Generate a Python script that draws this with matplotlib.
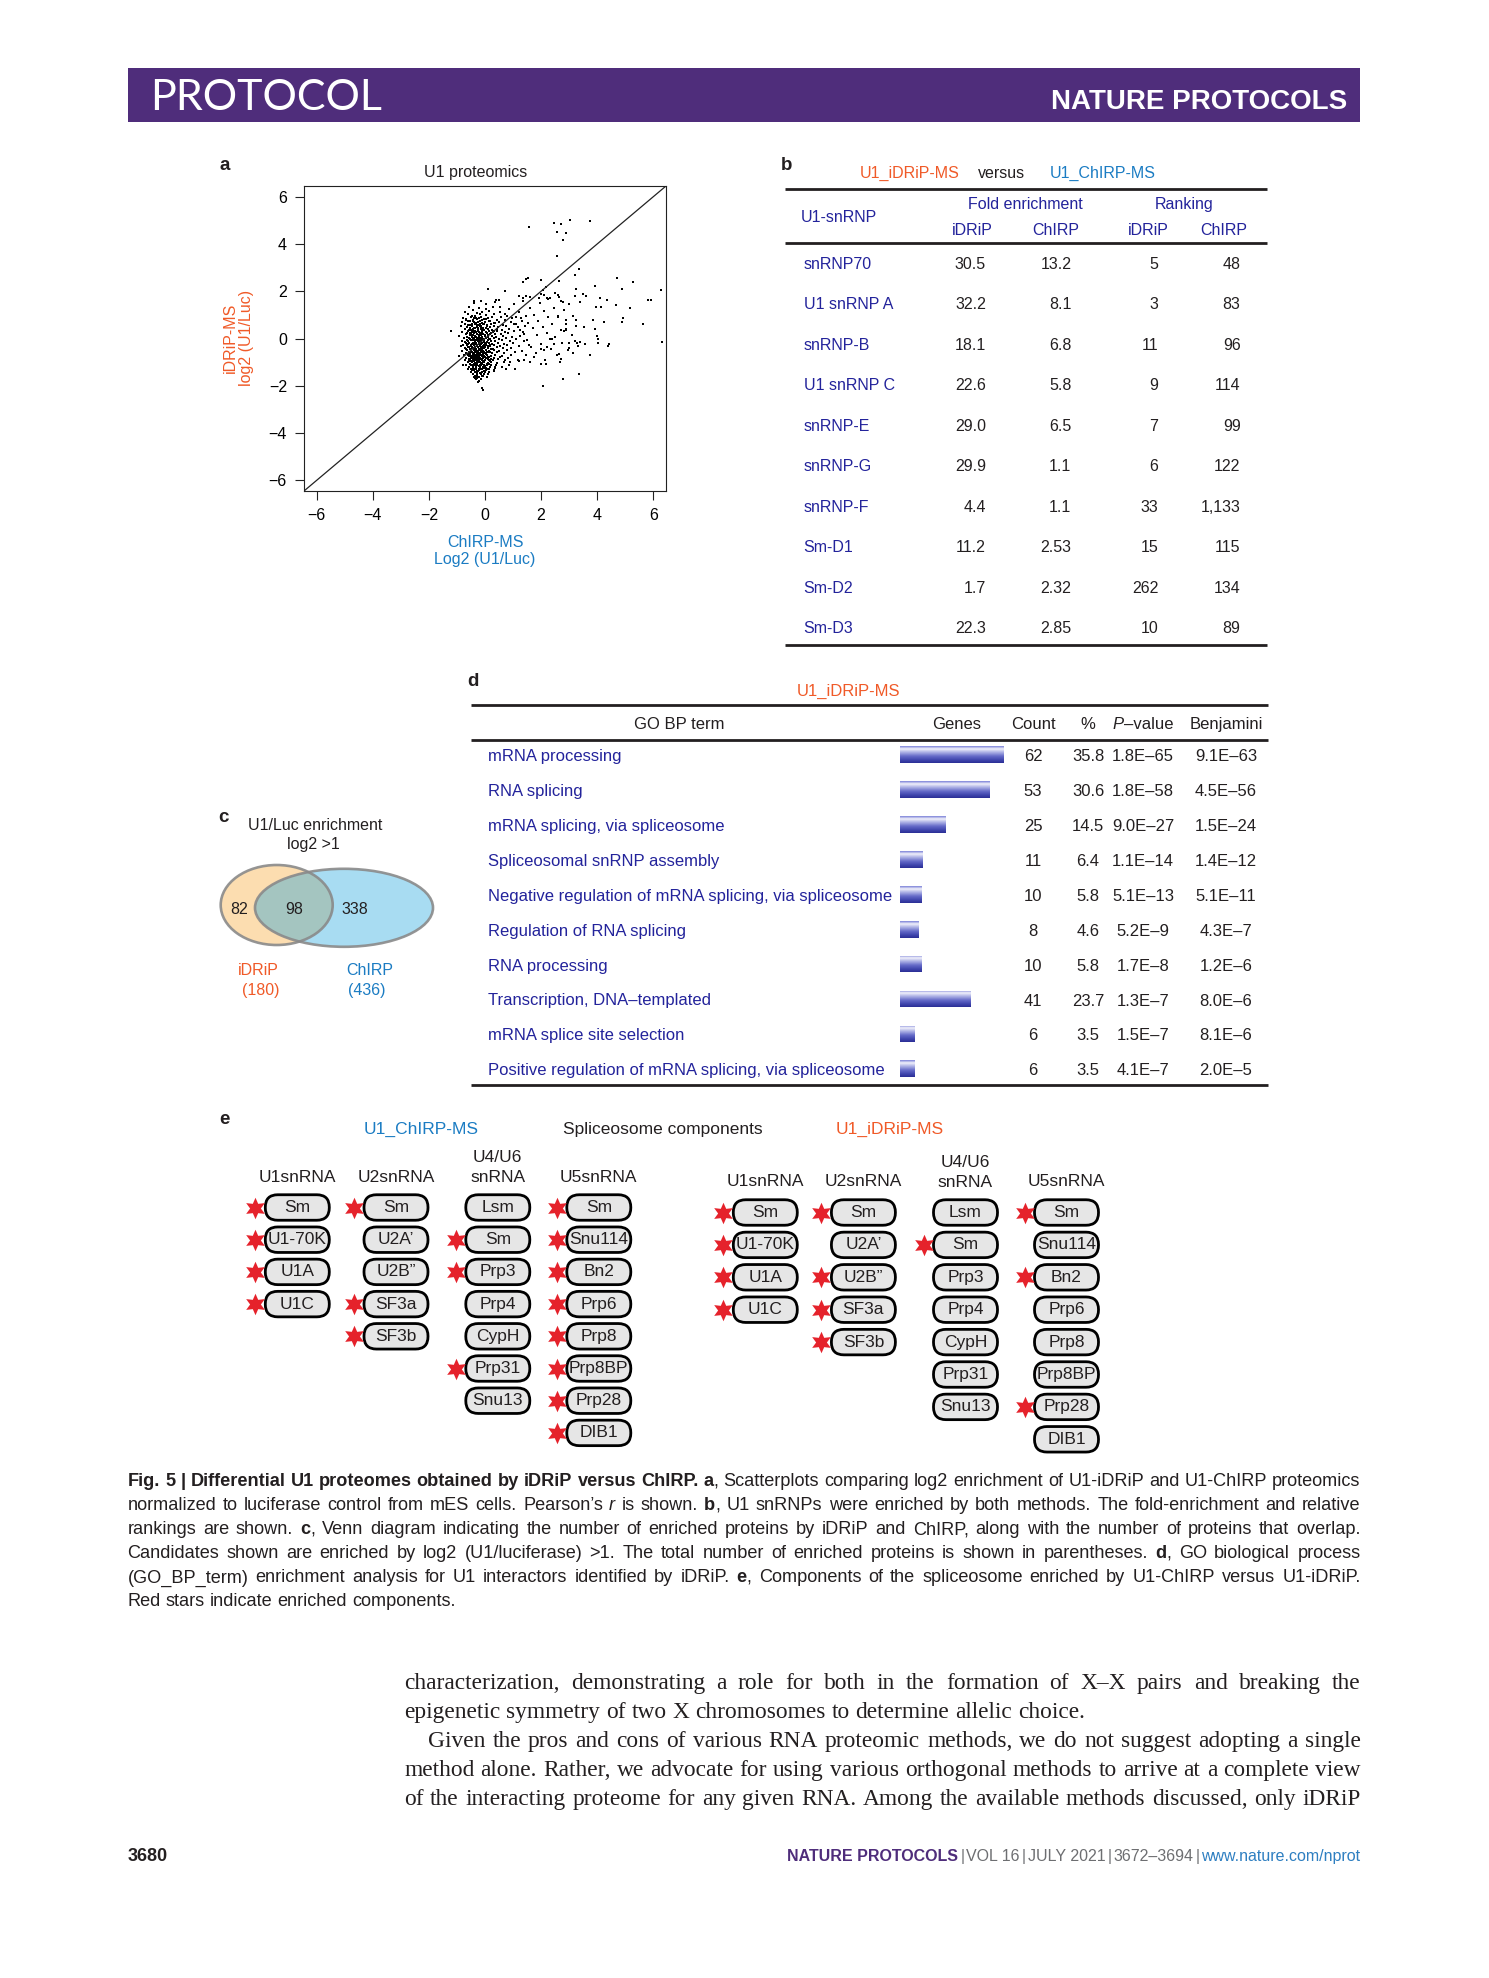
import numpy as np
import matplotlib
matplotlib.use('Agg')
import matplotlib.pyplot as plt
from matplotlib import font_manager as fm
from matplotlib.patches import Ellipse, FancyBboxPatch, Rectangle
from matplotlib.colors import LinearSegmentedColormap

# ------------------------------------------------------------------ fonts
_names = {f.name for f in fm.fontManager.ttflist}
SANS = 'Liberation Sans' if 'Liberation Sans' in _names else 'DejaVu Sans'
NARROW = 'Liberation Sans Narrow' if 'Liberation Sans Narrow' in _names else SANS
SERIF = 'Liberation Serif' if 'Liberation Serif' in _names else 'DejaVu Serif'
LIGHT = 'Lato' if 'Lato' in _names else SANS
plt.rcParams['font.family'] = SANS

# ------------------------------------------------------------------ data
# panel a : log2(U1/Luc) for ChIRP-MS (x) and iDRiP-MS (y)
u1_log2_points = [
 (-0.38,1.52),(0.02,1.47),(-0.15,1.58),(-0.57,1.33),(-0.22,1.27),(0.28,1.35),(0.05,1.24),
 (-0.72,1.12),(-0.41,1.19),(-0.12,1.13),(0.13,1.17),(0.52,1.1),(-0.28,1.08),
 (-0.62,1.03),(-0.36,0.97),(-0.17,1.02),(0.04,0.98),(0.33,1.04),(0.78,0.96),(-0.48,0.94),
 (-0.77,0.88),(-0.51,0.92),(-0.31,0.86),(-0.13,0.91),(0.09,0.87),(0.24,0.93),(0.58,0.89),(1.12,0.92),(-0.02,0.84),
 (-0.66,0.82),(-0.44,0.77),(-0.27,0.81),(-0.09,0.78),(0.03,0.83),(0.19,0.76),(0.41,0.8),(0.71,0.78),(-0.55,0.74),(-0.19,0.73),
 (-0.81,0.69),(-0.59,0.72),(-0.39,0.68),(-0.24,0.71),(-0.11,0.66),(0.01,0.7),(0.13,0.73),(0.31,0.67),(0.49,0.71),(0.92,0.69),(1.31,0.72),(-0.33,0.64),
 (-0.71,0.61),(-0.53,0.57),(-0.36,0.62),(-0.21,0.58),(-0.04,0.63),(0.07,0.56),(0.23,0.6),(0.37,0.64),(0.63,0.58),(1.02,0.61),(-0.45,0.55),(-0.13,0.54),
 (-0.86,0.51),(-0.63,0.48),(-0.46,0.53),(-0.29,0.47),(-0.17,0.52),(-0.07,0.46),(0.06,0.51),(0.17,0.47),(0.31,0.52),(0.47,0.49),(0.76,0.53),(1.16,0.47),(1.44,0.51),(-0.38,0.44),(-0.24,0.43),
 (-0.73,0.41),(-0.56,0.38),(-0.41,0.42),(-0.26,0.37),(-0.16,0.41),(-0.03,0.38),(0.11,0.42),(0.24,0.36),(0.43,0.41),(0.61,0.38),(0.87,0.42),(-0.49,0.35),(-0.09,0.34),(0.33,0.33),
 (-0.81,0.29),(-0.61,0.32),(-0.47,0.27),(-0.34,0.31),(-0.23,0.28),(-0.11,0.32),(0.03,0.27),(0.14,0.31),(0.29,0.28),(0.44,0.32),(0.71,0.27),(1.04,0.31),(1.36,0.28),(-0.53,0.24),(-0.18,0.23),(0.21,0.24),
 (-0.69,0.21),(-0.51,0.18),(-0.39,0.22),(-0.27,0.17),(-0.15,0.21),(-0.06,0.18),(0.07,0.22),(0.19,0.17),(0.36,0.21),(0.56,0.18),(0.83,0.22),(-0.44,0.14),(-0.21,0.13),(-0.01,0.14),(0.12,0.13),
 (-0.91,0.11),(-0.63,0.08),(-0.47,0.12),(-0.32,0.07),(-0.21,0.11),(-0.11,0.08),(0.01,0.12),(0.11,0.07),(0.26,0.11),(0.39,0.08),(0.63,0.12),(0.96,0.08),(1.24,0.11),(-0.56,0.04),(-0.38,0.03),(-0.16,0.04),(0.05,0.03),
 (-0.76,0.01),(-0.54,-0.02),(-0.43,0.02),(-0.29,-0.03),(-0.19,0.01),(-0.08,-0.02),(0.03,0.02),(0.17,-0.03),(0.31,0.01),(0.51,-0.02),(0.74,0.02),(1.11,-0.01),(-0.64,-0.06),(-0.35,-0.07),(-0.13,-0.06),(0.09,-0.07),
 (-0.83,-0.09),(-0.61,-0.12),(-0.49,-0.08),(-0.37,-0.13),(-0.26,-0.09),(-0.15,-0.12),(-0.04,-0.08),(0.07,-0.13),(0.21,-0.09),(0.34,-0.12),(0.59,-0.08),(0.89,-0.11),(1.39,-0.09),(-0.71,-0.16),(-0.43,-0.17),(-0.2,-0.16),(0.02,-0.17),
 (-0.69,-0.21),(-0.56,-0.18),(-0.44,-0.22),(-0.32,-0.19),(-0.21,-0.23),(-0.1,-0.18),(0.01,-0.22),(0.14,-0.19),(0.26,-0.23),(0.46,-0.18),(0.69,-0.22),(1.01,-0.19),(-0.78,-0.26),(-0.5,-0.27),(-0.27,-0.26),(-0.05,-0.27),(0.19,-0.26),
 (-0.87,-0.31),(-0.64,-0.28),(-0.51,-0.32),(-0.39,-0.29),(-0.28,-0.33),(-0.17,-0.28),(-0.06,-0.32),(0.05,-0.29),(0.17,-0.33),(0.33,-0.28),(0.53,-0.32),(0.79,-0.29),(1.21,-0.31),(1.58,-0.28),(-0.58,-0.36),(-0.34,-0.37),(-0.12,-0.36),(0.1,-0.37),
 (-0.73,-0.41),(-0.58,-0.38),(-0.46,-0.42),(-0.34,-0.39),(-0.23,-0.43),(-0.13,-0.38),(-0.02,-0.42),(0.09,-0.39),(0.22,-0.43),(0.41,-0.38),(0.63,-0.42),(0.94,-0.39),(-0.66,-0.46),(-0.4,-0.47),(-0.18,-0.46),(0.03,-0.47),(0.28,-0.46),
 (-0.81,-0.51),(-0.63,-0.48),(-0.51,-0.52),(-0.4,-0.49),(-0.29,-0.53),(-0.19,-0.48),(-0.08,-0.52),(0.02,-0.49),(0.16,-0.53),(0.31,-0.48),(0.49,-0.52),(0.77,-0.49),(1.31,-0.51),(-0.57,-0.56),(-0.35,-0.57),(-0.14,-0.56),(0.08,-0.57),(-0.24,-0.58),
 (-0.69,-0.61),(-0.55,-0.58),(-0.44,-0.62),(-0.33,-0.59),(-0.23,-0.63),(-0.12,-0.58),(-0.01,-0.62),(0.12,-0.59),(0.24,-0.63),(0.43,-0.58),(0.67,-0.62),(1.06,-0.59),(-0.61,-0.66),(-0.38,-0.67),(-0.17,-0.66),(0.05,-0.67),(-0.28,-0.68),
 (-0.76,-0.71),(-0.59,-0.68),(-0.47,-0.72),(-0.36,-0.69),(-0.26,-0.73),(-0.15,-0.68),(-0.05,-0.72),(0.08,-0.69),(0.21,-0.73),(0.37,-0.68),(0.61,-0.72),(0.91,-0.69),(1.46,-0.71),(-0.53,-0.76),(-0.31,-0.77),(-0.1,-0.76),(0.14,-0.77),(-0.21,-0.78),
 (-0.66,-0.81),(-0.51,-0.78),(-0.39,-0.82),(-0.29,-0.79),(-0.18,-0.83),(-0.07,-0.78),(0.04,-0.82),(0.16,-0.79),(0.31,-0.83),(0.53,-0.78),(0.81,-0.82),(-0.58,-0.86),(-0.34,-0.87),(-0.13,-0.86),(0.09,-0.87),(-0.24,-0.88),
 (-0.71,-0.91),(-0.56,-0.88),(-0.43,-0.92),(-0.32,-0.89),(-0.22,-0.93),(-0.11,-0.88),(0.01,-0.92),(0.13,-0.89),(0.27,-0.93),(0.46,-0.88),(0.73,-0.92),(1.19,-0.89),(-0.49,-0.96),(-0.27,-0.97),(-0.06,-0.96),(0.19,-0.97),
 (-0.61,-1.01),(-0.47,-0.98),(-0.36,-1.02),(-0.25,-0.99),(-0.14,-1.03),(-0.03,-0.98),(0.09,-1.02),(0.23,-0.99),(0.41,-1.03),(0.66,-0.98),(-0.53,-1.06),(-0.31,-1.07),(-0.09,-1.06),(0.14,-1.07),
 (-0.67,-1.11),(-0.5,-1.13),(-0.39,-1.09),(-0.28,-1.12),(-0.17,-1.1),(-0.05,-1.13),(0.06,-1.09),(0.21,-1.12),(0.39,-1.1),(0.86,-1.12),(-0.44,-1.17),(-0.22,-1.18),(0.0,-1.17),
 (-0.56,-1.21),(-0.43,-1.23),(-0.31,-1.19),(-0.19,-1.22),(-0.08,-1.2),(0.04,-1.23),(0.18,-1.19),(0.36,-1.22),(0.61,-1.2),(-0.36,-1.27),(-0.13,-1.28),(0.09,-1.27),
 (-0.61,-1.31),(-0.46,-1.33),(-0.33,-1.29),(-0.22,-1.32),(-0.1,-1.3),(0.02,-1.33),(0.16,-1.29),(0.33,-1.32),(-0.27,-1.37),(-0.04,-1.38),
 (-0.51,-1.41),(-0.37,-1.43),(-0.24,-1.39),(-0.12,-1.42),(0.01,-1.4),(0.15,-1.43),(0.31,-1.39),(-0.18,-1.47),
 (-0.43,-1.51),(-0.29,-1.53),(-0.15,-1.49),(-0.02,-1.52),(0.12,-1.5),(-0.36,-1.57),
 (-0.39,-1.61),(-0.22,-1.63),(-0.08,-1.6),(0.08,-1.62),(-0.3,-1.67),(-0.31,-1.71),(-0.13,-1.73),(-0.22,-1.78),(-0.26,-1.83),
 (-0.52,0.15),(-0.33,0.26),(-0.42,-0.05),(-0.26,0.02),(-0.14,-0.24),(-0.47,-0.34),(-0.31,-0.44),(-0.09,-0.44),(-0.52,-0.64),
 (-0.37,-0.53),(-0.2,-0.62),(-0.04,-0.55),(-0.45,-0.81),(-0.29,-0.84),(-0.12,-0.72),(0.0,-0.78),(-0.4,-0.95),(-0.19,-0.99),
 (-0.55,-0.43),(-0.6,-0.22),(-0.25,-0.36),(-0.16,0.16),(-0.36,0.46),(-0.48,0.62),(-0.22,0.88),(-0.06,0.6),(0.15,0.0),
 (0.1,-0.3),(0.18,-0.58),(0.2,-0.85),(-0.58,-0.97),(-0.44,-1.12),(-0.33,-1.2),(-0.14,-1.14),(-0.02,-1.26),(-0.27,-1.46),
 (-0.1,-1.58),(-0.48,0.05),(-0.65,0.25),(-0.3,0.55),(-0.1,0.25),(0.05,0.45),(-0.42,0.3),(-0.35,-0.22),(-0.57,-0.76),
 (-0.24,-0.52),(-0.08,-0.64),(-0.48,-0.55),(-0.18,-0.31),(-0.04,-0.14),(-0.28,-0.05),(-0.41,-0.66),(-0.15,-0.86),(-0.35,-0.78),
 (-0.62,-0.38),(-0.22,-0.94),(-0.06,-1.0),(-0.45,-1.01),(-0.29,-1.04),(-0.17,-1.21),(-0.38,-1.34),(-0.5,-1.27),(0.07,-1.14),
 (0.12,-0.8),(0.0,-0.34),(-0.11,0.05),(-0.24,0.32),(-0.53,0.45),(-0.43,0.72),(-0.13,0.44),(-0.33,-0.93),(-0.2,-0.7),
 (-0.39,-0.39),(-0.27,-0.63),(-0.1,-0.9),(-0.36,0.12),(-0.2,-0.07),(-0.45,-0.25),(-0.3,-0.33),(-0.15,-0.5),(-0.42,-0.74),
 (-0.26,-0.9),(-0.08,-0.82),(-0.52,-0.88),(-0.36,-1.11),(-0.2,-1.3),(-0.05,-0.38),(-0.18,0.6),(-0.4,0.85),(-0.6,0.55),
 (0.55,1.35),(0.7,1.05),(0.85,1.25),(0.95,0.85),(1.05,1.45),(1.1,0.6),(1.2,1.1),(1.25,0.35),(1.3,0.85),(1.35,1.6),(1.4,0.2),
 (1.45,0.95),(1.5,-0.05),(1.55,0.65),(1.6,1.3),(1.65,-0.35),(1.7,0.45),(1.75,1.0),(1.8,-0.6),(1.85,0.15),(1.9,0.75),(1.95,1.5),
 (2.0,-0.25),(2.05,0.5),(2.1,1.15),(2.15,-0.9),(2.2,0.25),(2.25,0.9),(2.3,1.7),(2.35,-0.45),(2.4,0.6),(2.45,1.3),(2.5,0.05),
 (2.55,-0.7),(2.6,0.95),(2.65,1.75),(2.7,0.35),(2.75,-0.2),(2.8,1.2),(2.9,0.6),(2.95,-0.5),(3.0,1.45),(3.1,0.15),(3.15,0.95),
 (0.72,2.0),(0.38,1.62),(1.2,1.78),(1.35,1.72),(1.45,1.8),(1.6,1.75),(1.93,1.7),(2.0,1.9),(2.1,1.85),(2.2,1.7),(2.25,1.65),
 (2.5,1.92),(2.6,1.85),(2.7,1.6),(2.78,1.55),(3.2,1.78),(3.25,2.1),(3.4,1.55),(3.5,1.9),(3.6,1.79),(1.06,-1.31),(0.74,-1.31),
 (0.35,-1.23),(0.9,-1.0),(1.2,-0.95),(1.4,-0.9),(1.6,-1.0),(1.75,-0.8),(2.01,-1.09),(2.16,-1.09),(2.62,-0.65),(2.7,-0.85),
 (2.66,-1.0),(2.45,-0.24),(2.3,0.0),(2.4,-0.02),(2.2,-0.35),(2.1,-0.5),(2.0,-0.45),(2.87,0.35),(2.8,0.3),(2.9,0.4),(3.0,-0.19),
 (3.0,-0.42),(3.2,-0.1),(3.27,-0.2),(3.33,-0.3),(3.4,-0.15),(3.55,-0.25),(3.14,-0.63),
 (1.57,4.72),(2.45,4.9),(2.72,4.85),(3.02,5.0),(3.74,4.95),(2.56,4.5),(2.87,4.47),(2.78,4.17),(2.56,3.48),
 (3.35,2.93),(3.19,2.69),(4.71,2.58),(5.29,2.41),(6.28,2.07),(4.89,2.1),(3.92,2.22),(0.11,2.1),
 (1.36,2.41),(1.45,2.5),(1.52,2.55),(2.01,2.46),(2.63,2.42),(2.19,2.18),(2.05,2.04),
 (4.1,1.7),(3.95,1.33),(4.13,1.33),(4.36,1.62),(4.67,1.41),(5.17,1.3),(5.8,1.62),(5.93,1.62),
 (5.62,0.63),(4.93,0.87),(4.87,0.7),(4.25,0.7),(3.86,0.77),(3.54,0.49),(3.26,0.77),(2.9,0.77),(2.61,0.91),
 (6.32,-0.13),(4.43,-0.24),(4.38,-0.32),(4.01,-0.21),(4.02,-0.04),(3.98,0.11),(3.74,-0.71),(3.93,0.42),(3.24,0.52),
 (3.36,-1.49),(2.78,-1.72),(2.07,-1.99),(-0.1,-2.1),(-0.07,-2.16),(-1.2,0.3),(-0.39,1.59),(0.35,1.55),(0.5,1.62),
 (-0.94,-0.75),(-0.69,0.77),(-0.78,-1.13),(-0.37,-1.69),(-0.3,-1.62),
]
chirp_log2 = [p[0] for p in u1_log2_points]
idrip_log2 = [p[1] for p in u1_log2_points]
pearson_r = 0.23
axis_ticks = [-6, -4, -2, 0, 2, 4, 6]

# panel b
snrnp_names = ['snRNP70', 'U1 snRNP A', 'snRNP-B', 'U1 snRNP C', 'snRNP-E',
               'snRNP-G', 'snRNP-F', 'Sm-D1', 'Sm-D2', 'Sm-D3']
fold_idrip = ['30.5', '32.2', '18.1', '22.6', '29.0', '29.9', '4.4', '11.2', '1.7', '22.3']
fold_chirp = ['13.2', '8.1', '6.8', '5.8', '6.5', '1.1', '1.1', '2.53', '2.32', '2.85']
rank_idrip = [5, 3, 11, 9, 7, 6, 33, 15, 262, 10]
rank_chirp = [48, 83, 96, 114, 99, 122, 1133, 115, 134, 89]

# panel c
venn_only_idrip, venn_both, venn_only_chirp = 82, 98, 338
total_idrip, total_chirp = 180, 436

# panel d
go_terms = ['mRNA processing', 'RNA splicing', 'mRNA splicing, via spliceosome',
            'Spliceosomal snRNP assembly',
            'Negative regulation of mRNA splicing, via spliceosome',
            'Regulation of RNA splicing', 'RNA processing',
            'Transcription, DNA\u2013templated', 'mRNA splice site selection',
            'Positive regulation of mRNA splicing, via spliceosome']
go_count = [62, 53, 25, 11, 10, 8, 10, 41, 6, 6]
go_pct = ['35.8', '30.6', '14.5', '6.4', '5.8', '4.6', '5.8', '23.7', '3.5', '3.5']
go_pval = ['1.8E\u201365', '1.8E\u201358', '9.0E\u201327', '1.1E\u201314', '5.1E\u201313',
           '5.2E\u20139', '1.7E\u20138', '1.3E\u20137', '1.5E\u20137', '4.1E\u20137']
go_benj = ['9.1E\u201363', '4.5E\u201356', '1.5E\u201324', '1.4E\u201312', '5.1E\u201311',
           '4.3E\u20137', '1.2E\u20136', '8.0E\u20136', '8.1E\u20136', '2.0E\u20135']

# panel e
snrna_groups = ['U1snRNA', 'U2snRNA', 'U4/U6\nsnRNA', 'U5snRNA']
components = [['Sm', 'U1-70K', 'U1A', 'U1C'],
              ['Sm', 'U2A\u2019', 'U2B\u201d', 'SF3a', 'SF3b'],
              ['Lsm', 'Sm', 'Prp3', 'Prp4', 'CypH', 'Prp31', 'Snu13'],
              ['Sm', 'Snu114', 'Bn2', 'Prp6', 'Prp8', 'Prp8BP', 'Prp28', 'DIB1']]
chirp_enriched = [[1, 1, 1, 1], [1, 0, 0, 1, 1], [0, 1, 1, 0, 0, 1, 0], [1, 1, 1, 1, 1, 1, 1, 1]]
idrip_enriched = [[1, 1, 1, 1], [1, 0, 1, 1, 1], [0, 1, 0, 0, 0, 0, 0], [1, 0, 1, 0, 0, 0, 1, 0]]

# text
caption_lines = [
 "**Fig. 5 | Differential U1 proteomes obtained by iDRiP versus ChIRP. a**, Scatterplots comparing log2 enrichment of U1-iDRiP and U1-ChIRP proteomics",
 "normalized to luciferase control from mES cells. Pearson\u2019s __r__ is shown. **b**, U1 snRNPs were enriched by both methods. The fold-enrichment and relative",
 "rankings are shown. **c**, Venn diagram indicating the number of enriched proteins by iDRiP and ChIRP, along with the number of proteins that overlap.",
 "Candidates shown are enriched by log2 (U1/luciferase) >1. The total number of enriched proteins is shown in parentheses. **d**, GO biological process",
 "(GO_BP_term) enrichment analysis for U1 interactors identified by iDRiP. **e**, Components of the spliceosome enriched by U1-ChIRP versus U1-iDRiP.",
 "Red stars indicate enriched components.",
]
body_lines = [
 "characterization, demonstrating a role for both in the formation of X\u2013X pairs and breaking the",
 "epigenetic symmetry of two X chromosomes to determine allelic choice.",
 "Given the pros and cons of various RNA proteomic methods, we do not suggest adopting a single",
 "method alone. Rather, we advocate for using various orthogonal methods to arrive at a complete view",
 "of the interacting proteome for any given RNA. Among the available methods discussed, only iDRiP",
]

# ------------------------------------------------------------------ colours
PURPLE = '#4F2D7B'
ORANGE = '#F05A28'
CBLUE = '#1B7CC3'
NAVY = '#23239B'
INK = '#231F20'
STAR = '#E5222B'

W, H = 1489, 1978
fig = plt.figure(figsize=(W / 100, H / 100), dpi=100)
bg = fig.add_axes([0, 0, 1, 1])
bg.set_xlim(0, W)
bg.set_ylim(H, 0)
bg.axis('off')
RND = fig.canvas.get_renderer()

_wc = {}
def tw(s, fam, size, weight='normal', style='normal'):
    key = (s, fam, size, weight, style)
    if key not in _wc:
        t = bg.text(0, 0, '|' + s + '|', family=fam, size=size, weight=weight, style=style)
        w1 = t.get_window_extent(RND).width
        t.set_text('||')
        w0 = t.get_window_extent(RND).width
        t.remove()
        _wc[key] = w1 - w0
    return _wc[key]

def T(x, y, s, fam=SANS, size=11.5, color=INK, ha='center', va='center', **kw):
    return bg.text(x, y, s, family=fam, size=size, color=color, ha=ha, va=va, **kw)

def rich(x, y, segs, ha='left', va='baseline', fam=SANS, size=11.5):
    ws = []
    for s, o in segs:
        ws.append(tw(s, o.get('fam', fam), o.get('size', size), o.get('weight', 'normal'),
                     o.get('style', 'normal')) + o.get('gap', 0))
    tot = sum(ws)
    x0 = x - tot if ha == 'right' else (x - tot / 2 if ha == 'center' else x)
    for (s, o), w in zip(segs, ws):
        bg.text(x0 + o.get('gap', 0) / 2, y, s, family=o.get('fam', fam), size=o.get('size', size),
                weight=o.get('weight', 'normal'), style=o.get('style', 'normal'),
                color=o.get('color', INK), ha='left', va=va)
        x0 += w

def parse_words(line):
    chars, bold, ital, i = [], False, False, 0
    while i < len(line):
        if line.startswith('**', i):
            bold = not bold; i += 2; continue
        if line.startswith('__', i):
            ital = not ital; i += 2; continue
        chars.append((line[i], bold, ital)); i += 1
    words, cur = [], []
    for c, b, it in chars:
        if c == ' ':
            if cur:
                words.append(cur); cur = []
        else:
            cur.append((c, b, it))
    if cur:
        words.append(cur)
    out = []
    for w in words:
        segs = []
        for c, b, it in w:
            if segs and segs[-1][1] == (b, it):
                segs[-1][0] += c
            else:
                segs.append([c, (b, it)])
        out.append(segs)
    return out

def word_w(word, fam, size):
    return sum(tw(s, fam, size, 'bold' if b else 'normal', 'italic' if it else 'normal')
               for s, (b, it) in word)

def fit_size(lines, lefts, right, just, fam, base):
    best = None
    for line, left, j in zip(lines, lefts, just):
        if not j:
            continue
        words = parse_words(line)
        nat = sum(word_w(w, fam, base) for w in words) + (len(words) - 1) * tw(' ', fam, base)
        r = (right - left) / nat
        best = r if best is None else min(best, r)
    return round(base * best, 2)

def paragraph(lines, lefts, right, ys, just, fam, size, color=INK):
    sp = tw(' ', fam, size)
    for line, left, y, j in zip(lines, lefts, ys, just):
        words = parse_words(line)
        ws = [word_w(w, fam, size) for w in words]
        gap = (right - left - sum(ws)) / (len(words) - 1) if (j and len(words) > 1) else sp
        x = left
        for w, wd in zip(words, ws):
            xx = x
            for s, (b, it) in w:
                wt = 'bold' if b else 'normal'
                st = 'italic' if it else 'normal'
                bg.text(xx, y, s, family=fam, size=size, weight=wt, style=st, color=color,
                        ha='left', va='baseline')
                xx += tw(s, fam, size, wt, st)
            x += wd + gap

def ax_px(x0, y0, x1, y1):
    return fig.add_axes([x0 / W, 1 - y1 / H, (x1 - x0) / W, (y1 - y0) / H])

# ------------------------------------------------------------------ header bar
bg.add_patch(Rectangle((127.5, 68), 1232.8, 54.4, color=PURPLE, lw=0))
T(150, 110, 'PROTOCOL', fam=LIGHT, size=31, color='white', ha='left', va='baseline', weight='normal')
T(1347, 109, 'NATURE PROTOCOLS', fam=NARROW, size=20, color='white', ha='right', va='baseline', weight='bold')

# panel letters
for lab, (lx, ly) in zip('abcde', [(225, 166), (787, 166), (223, 817), (473, 681), (224, 1120)]):
    T(lx, ly, lab, fam=SANS, size=13.5, weight='bold')

# ------------------------------------------------------------------ panel a
axa = ax_px(304, 186, 666, 491)
axa.scatter(chirp_log2, idrip_log2, s=3.2, marker='s', c='black', linewidths=0)
axa.axline((0, 0), slope=1, color='#222222', lw=0.9)
axa.set_xlim(-6.45, 6.45)
axa.set_ylim(-6.45, 6.45)
axa.set_xticks(axis_ticks)
axa.set_yticks(axis_ticks)
axa.tick_params(length=6.8, width=0.8, pad=5.5, labelsize=11.5, color='#222222')
for sp_ in axa.spines.values():
    sp_.set_linewidth(0.8)
    sp_.set_color('#222222')
T(476, 172, 'U1 proteomics')
rich(324, 214, [('R', {'style': 'italic'}), (' = %.2f' % pearson_r, {})])
T(238.5, 338, 'iDRiP-MS\nlog2 (U1/Luc)', color=ORANGE, rotation=90, linespacing=1.15)
T(485, 551, 'ChIRP-MS\nLog2 (U1/Luc)', color=CBLUE, linespacing=1.15)

# ------------------------------------------------------------------ panel b
rich(860, 178, [('U1_iDRiP-MS', {'color': ORANGE}), ('versus', {'gap': 36}),
                ('U1_ChIRP-MS', {'color': CBLUE, 'gap': 14})])
for yy in (189, 242.5, 644.5):
    bg.plot([785, 1267], [yy, yy], color=INK, lw=2.0, solid_capstyle='butt')
T(801, 217, 'U1-snRNP', color=NAVY, ha='left')
T(1025, 204.5, 'Fold enrichment', color=NAVY)
T(1184, 204.5, 'Ranking', color=NAVY)
for cx, s in zip([972, 1056, 1148, 1224], ['iDRiP', 'ChIRP', 'iDRiP', 'ChIRP']):
    T(cx, 230.5, s, color=NAVY)
for i in range(len(snrnp_names)):
    yy = 264.5 + i * 40.45
    T(803.5, yy, snrnp_names[i], color=NAVY, ha='left')
    T(986, yy, fold_idrip[i], ha='right')
    T(1071.5, yy, fold_chirp[i], ha='right')
    T(1158.5, yy, '{:,}'.format(rank_idrip[i]), ha='right')
    T(1240.5, yy, '{:,}'.format(rank_chirp[i]), ha='right')

# ------------------------------------------------------------------ panel c
T(315, 825.5, 'U1/Luc enrichment')
T(313, 844, 'log2 >1')
e_or = Ellipse((276.7, 905), 112, 80, facecolor='#FCDDB0', edgecolor='none')
e_bl = Ellipse((344, 907.8), 178, 78, facecolor='#A8DCF2', edgecolor='none')
bg.add_patch(e_or)
bg.add_patch(e_bl)
e_ov = Ellipse((276.7, 905), 112, 80, facecolor='#A4C5C0', edgecolor='none')
bg.add_patch(e_ov)
e_ov.set_clip_path(e_bl)
for ctr, w_, h_ in [((276.7, 905), 112, 80), ((344, 907.8), 178, 78)]:
    bg.add_patch(Ellipse(ctr, w_, h_, facecolor='none', edgecolor='#8A8A8A', lw=1.9, alpha=0.9))
T(239.5, 909, str(venn_only_idrip))
T(294, 909, str(venn_both))
T(355, 909, str(venn_only_chirp))
T(258.5, 970.5, 'iDRiP', color=ORANGE)
T(261, 990.5, '(%d)' % total_idrip, color=ORANGE)
T(369.5, 970.5, 'ChIRP', color=CBLUE)
T(366.5, 990.5, '(%d)' % total_chirp, color=CBLUE)

# ------------------------------------------------------------------ panel d
DS = 12
T(849, 691, 'U1_iDRiP-MS', fam=NARROW, size=DS, color=ORANGE)
for yy in (705, 739.5, 1085):
    bg.plot([471, 1268], [yy, yy], color=INK, lw=2.0, solid_capstyle='butt')
T(679.5, 724.5, 'GO BP term', fam=NARROW, size=DS)
T(956.6, 724.5, 'Genes', fam=NARROW, size=DS)
T(1033, 724.5, 'Count', fam=NARROW, size=DS)
T(1088, 724.5, '%', fam=NARROW, size=DS)
rich(1143, 729, [('P', {'style': 'italic'}), ('\u2013value', {})], ha='center', fam=NARROW, size=DS)
T(1226, 724.5, 'Benjamini', fam=NARROW, size=DS)
ROW0, DROW = 756.7, 34.9
for i in range(len(go_terms)):
    yy = ROW0 + i * DROW
    T(488.5, yy, go_terms[i], fam=NARROW, size=DS, color=NAVY, ha='left')
    T(1033, yy, str(go_count[i]), fam=NARROW, size=DS)
    T(1088, yy, go_pct[i], fam=NARROW, size=DS)
    T(1143, yy, go_pval[i], fam=NARROW, size=DS)
    T(1226, yy, go_benj[i], fam=NARROW, size=DS)

STUB = 3.34           # bars start slightly left of zero count
PX_PER_COUNT = 1.588
axd = ax_px(900, ROW0 - 2 - DROW / 2, 1010, ROW0 - 2 - DROW / 2 + DROW * len(go_terms))
axd.axis('off')
bars = axd.barh(range(len(go_count)), [c + STUB for c in go_count], left=-STUB,
                height=0.48, color='#4A50B8', lw=0)
grad_cmap = LinearSegmentedColormap.from_list('gb', [
    (0.0, '#7C82D8'), (0.16, '#F2F2FB'), (0.34, '#B4B8E8'),
    (0.6, '#646AC8'), (0.85, '#3C41AA'), (1.0, '#2B2F95')])
grad = np.linspace(0, 1, 64)[:, None]
for p in bars.patches:
    x0, y0, w_, h_ = p.get_x(), p.get_y(), p.get_width(), p.get_height()
    im = axd.imshow(grad, extent=(x0, x0 + w_, y0 + h_, y0), cmap=grad_cmap,
                    aspect='auto', origin='upper', zorder=3, interpolation='bilinear')
    im.set_clip_path(p)
axd.set_xlim(-STUB, -STUB + 110 / PX_PER_COUNT)
axd.set_ylim(len(go_count) - 0.5, -0.5)

# ------------------------------------------------------------------ panel e
ES = 12.5
T(421, 1129.5, 'U1_ChIRP-MS', fam=NARROW, size=ES, color=CBLUE)
T(663, 1129.5, 'Spliceosome components', fam=NARROW, size=ES)
T(890, 1129.5, 'U1_iDRiP-MS', fam=NARROW, size=ES, color=ORANGE)

def spliceosome(col_x, y0, dy, yhead, enriched):
    for g, cx in enumerate(col_x):
        if '\n' in snrna_groups[g]:
            T(cx, yhead - 9.5, snrna_groups[g], fam=NARROW, size=ES, linespacing=1.45)
        else:
            T(cx, yhead, snrna_groups[g], fam=NARROW, size=ES)
        for k, name in enumerate(components[g]):
            cy = y0 + k * dy
            pw, ph = 64, 25.5
            bg.add_patch(FancyBboxPatch((cx - pw / 2, cy - ph / 2), pw, ph,
                                        boxstyle='round,pad=0,rounding_size=12.5',
                                        facecolor='#E6E6E6', edgecolor='black', lw=2.0))
            T(cx, cy, name, fam=NARROW, size=ES)
            if enriched[g][k]:
                bg.plot(cx - 42, cy, marker=(6, 1, 0), ms=15.5, color=STAR, mec='none')

spliceosome([297.3, 396, 497.8, 598.8], 1207.5, 32.2, 1177, chirp_enriched)
spliceosome([765.3, 863.4, 965.5, 1066.5], 1212.5, 32.4, 1182, idrip_enriched)

# ------------------------------------------------------------------ caption
cap_y = [1486.5, 1510.5, 1534.5, 1558.5, 1582.5, 1605.5]
cap_just = [True, True, True, True, True, False]
cap_left = [127.5] * 6
cap_size = fit_size(caption_lines, cap_left, 1360.5, cap_just, NARROW, 13.0)
paragraph(caption_lines, cap_left, 1360.5, cap_y, cap_just, NARROW, cap_size)

# ------------------------------------------------------------------ body text
body_y = [1689, 1718, 1747, 1776, 1805]
body_left = [404, 404, 428, 404, 404]
body_just = [True, False, True, True, True]
body_size = fit_size(body_lines, body_left, 1360.5, body_just, SERIF, 15.0)
paragraph(body_lines, body_left, 1360.5, body_y, body_just, SERIF, body_size)

# ------------------------------------------------------------------ footer
T(127.5, 1861, '3680', fam=NARROW, size=13, weight='bold', ha='left', va='baseline')
rich(1360.5, 1861, [('NATURE PROTOCOLS', {'color': PURPLE, 'weight': 'bold'}),
                    ('|', {'color': '#6D6E71', 'gap': 4}), ('VOL 16', {'color': '#6D6E71'}),
                    ('|', {'color': '#6D6E71', 'gap': 4}), ('JULY 2021', {'color': '#6D6E71'}),
                    ('|', {'color': '#6D6E71', 'gap': 4}), ('3672\u20133694', {'color': '#6D6E71'}),
                    ('|', {'color': '#6D6E71', 'gap': 4}), ('www.nature.com/nprot', {'color': '#2E7FC1'})],
     ha='right', fam=NARROW, size=11.5)

fig.savefig('out.png', dpi=100)
